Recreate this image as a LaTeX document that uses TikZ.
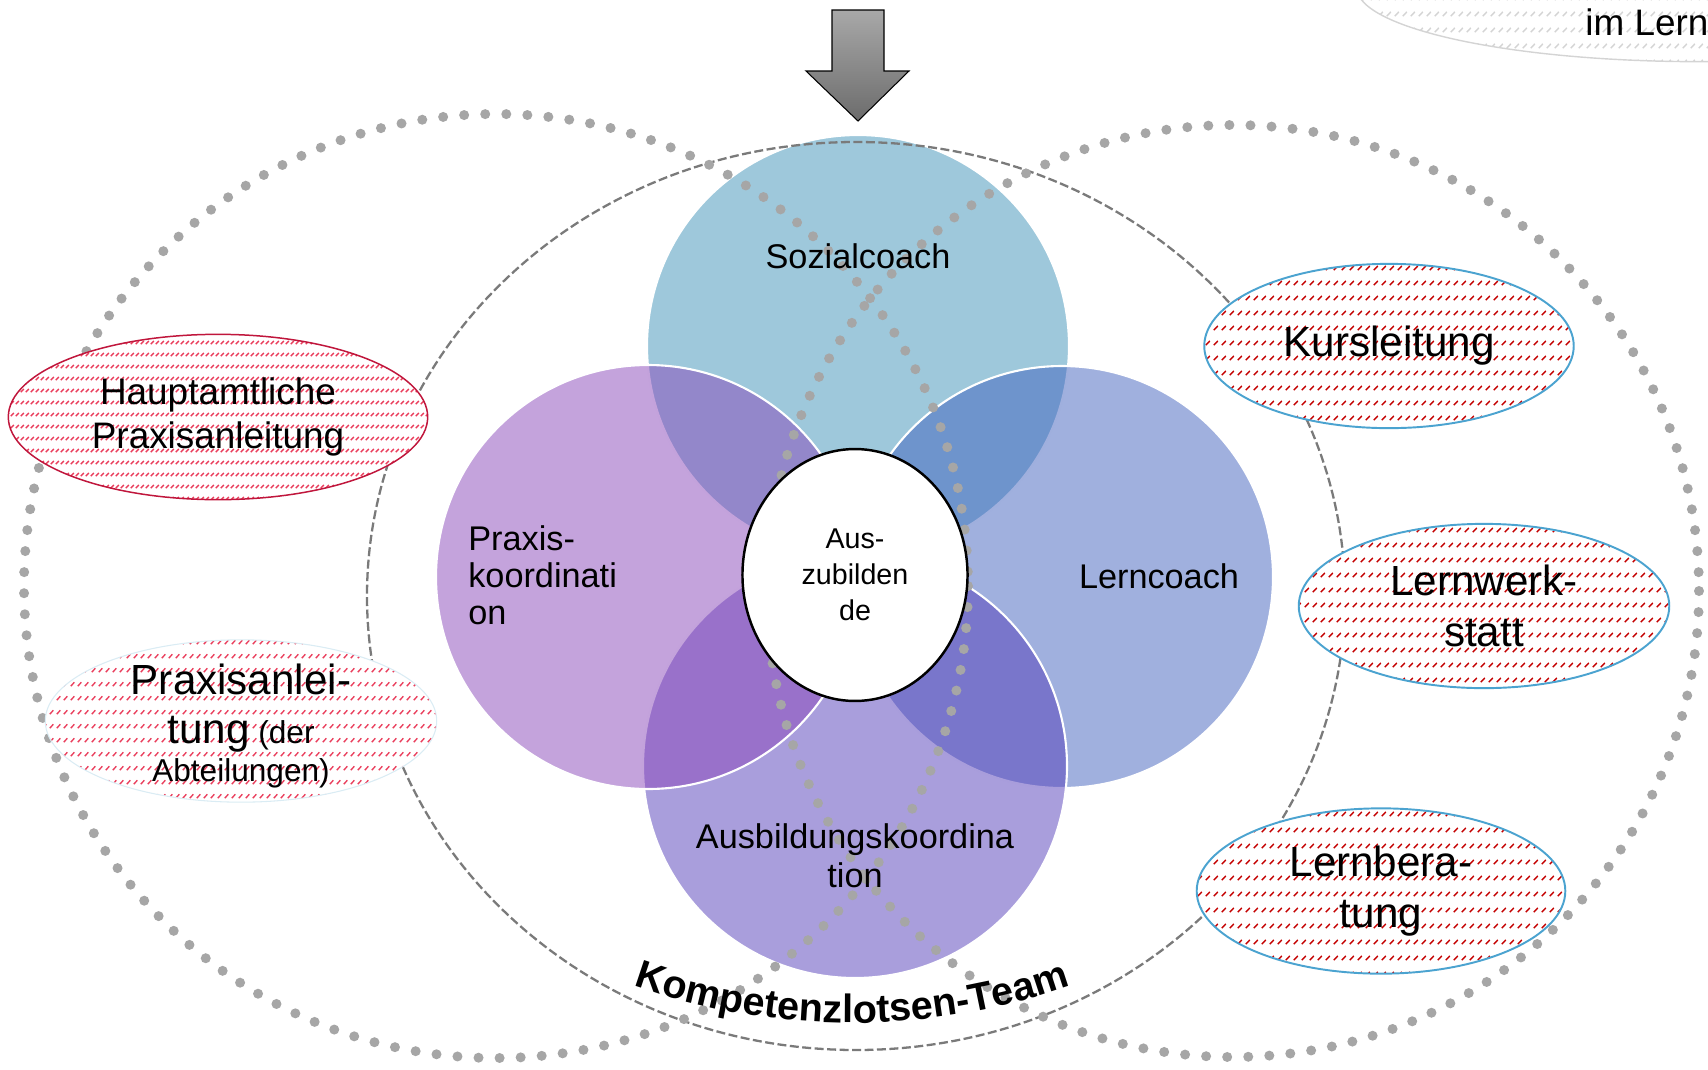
\documentclass[tikz,border=0pt]{standalone}
\usepackage{fontspec}
\setmainfont{Liberation Sans}
\usepackage{xcolor}
\usepackage{tikz}
\usetikzlibrary{shapes.geometric, patterns, decorations.text}

\definecolor{sozialblue}{RGB}{61,145,183}
\definecolor{praxislila}{RGB}{137,71,185}
\definecolor{lernblue}{RGB}{65,97,189}
\definecolor{ausbviolett}{RGB}{83,61,185}
\definecolor{ringgray}{RGB}{122,122,122}
\definecolor{dotgray}{RGB}{166,166,166}
\definecolor{hatchpink}{RGB}{234,62,92}
\definecolor{hatchred}{RGB}{196,0,0}
\definecolor{hatchgray}{RGB}{212,212,212}
\definecolor{rimred}{RGB}{192,22,60}
\definecolor{rimblue}{RGB}{75,163,208}
\definecolor{rimpale}{RGB}{218,236,244}
\definecolor{arrowtop}{RGB}{168,168,168}
\definecolor{arrowbottom}{RGB}{108,108,108}

\newcommand\dashrowpattern[4]{%
  \pgfdeclarepatternformonly{#1}{\pgfpointorigin}{\pgfqpoint{#2}{#3}}{\pgfqpoint{#2}{#3}}{%
    \pgfsetlinewidth{0.85pt}%
    \pgfpathmoveto{\pgfqpoint{0.5pt}{0.5pt}}%
    \pgfpathlineto{\pgfqpoint{#4}{#4}}%
    \pgfusepath{stroke}}}
\dashrowpattern{dashrowsfine}{3.1pt}{6.6pt}{2.4pt}
\dashrowpattern{dashrowsmid}{4pt}{8.1pt}{2.8pt}
\dashrowpattern{dashrows}{4.7pt}{8.8pt}{3pt}

\begin{document}
\begin{tikzpicture}[x=0.02cm, y=-0.02cm,
    venn/.style={fill opacity=0.5, draw=white, line width=1.2pt},
    dotring/.style={draw=dotgray, line width=5.7pt, line cap=round, dash pattern=on 0pt off 12pt},
    dashring/.style={draw=ringgray, line width=1.3pt, dash pattern=on 5.1pt off 2pt},
    hatchbox/.style={ellipse, inner sep=0pt, preaction={fill=white}, align=center},
    circlelabel/.style={inner sep=0pt, align=center, font=\fontsize{19.5}{22}\selectfont}]
  \useasboundingbox (0,0) rectangle (1708,1069);

  \coordinate (sozc) at (858,346);
  \coordinate (praxc) at (648,577);
  \coordinate (lernc) at (1062,577);
  \coordinate (ausbc) at (855,766);

  \path[venn, fill=sozialblue] (sozc) circle[radius=211];
  \path[venn, fill=lernblue] (lernc) circle[radius=211];
  \path[venn, fill=ausbviolett] (ausbc) circle[radius=212];
  \path[venn, fill=praxislila] (praxc) circle[radius=212];

  \draw[dashring] (856,596) ellipse[x radius=489, y radius=454];
  \draw[dotring] (496,586) circle[radius=472];
  \draw[dotring] (1233,591) circle[radius=466];

  \node[ellipse, draw=black, line width=1.4pt, fill=white, inner sep=0pt,
        minimum width=128.1pt, minimum height=143.4pt, align=center,
        font=\fontsize{16.3}{20.4}\selectfont] (azubi) at (855,575) {Aus-\\zubilden\\de};

  \node[circlelabel] (sozial) at (858,256) {Sozialcoach};
  \node[circlelabel] (lern) at (1159,576) {Lerncoach};
  \node[circlelabel, anchor=west, align=left, font=\fontsize{19.5}{21}\selectfont] (praxis) at (468,575) {Praxis-\\koordinati\\on};
  \node[circlelabel] (ausb) at (855,856) {Ausbildungskoordina\\tion};

  \node[hatchbox, draw=rimred, line width=0.85pt, pattern=dashrowsfine, pattern color=hatchpink,
        minimum width=238.7pt, minimum height=94.1pt,
        font=\fontsize{21}{25.5}\selectfont] (haupt) at (218,417) {Hauptamtliche\\Praxisanleitung};
  \node[hatchbox, draw=rimpale, line width=0.6pt, pattern=dashrowsmid, pattern color=hatchpink,
        minimum width=222.8pt, minimum height=92.4pt] (praxanl) at (241,721) {};
  \node[align=center, inner sep=0pt, font=\fontsize{18}{21.5}\selectfont] (praxanltext) at (241,726)
    {{\fontsize{24}{21.5}\selectfont Praxisanlei-}\\[6.3pt]{\fontsize{24}{21.5}\selectfont tung} (der\\Abteilungen)};
  \node[hatchbox, draw=rimblue, line width=1.1pt, pattern=dashrows, pattern color=hatchred,
        minimum width=210.3pt, minimum height=93.5pt,
        font=\fontsize{24}{29.5}\selectfont] (kurs) at (1389,346) {Kursleitung};
  \node[hatchbox, draw=rimblue, line width=1.1pt, pattern=dashrows, pattern color=hatchred,
        minimum width=210.9pt, minimum height=93.5pt,
        font=\fontsize{24}{29.5}\selectfont] (werkstatt) at (1484,606) {Lernwerk-\\statt};
  \node[hatchbox, draw=rimblue, line width=1.1pt, pattern=dashrows, pattern color=hatchred,
        minimum width=209.8pt, minimum height=94.1pt,
        font=\fontsize{24}{29}\selectfont] (beratung) at (1381,891) {Lernbera-\\tung};
  \node[hatchbox, draw=hatchgray, line width=0.8pt, pattern=dashrows, pattern color=hatchgray,
        minimum width=391.2pt, minimum height=85pt] (lernzentrum) at (1700,-13) {};
  \node[anchor=base west, inner sep=0pt, font=\fontsize{21}{25}\selectfont] (imlern) at (1585,35) {im Lern};

  \path[decorate, decoration={text along path, text align=center,
      text={|\fontsize{22.5}{25}\selectfont\bfseries|Kompetenzlotsen-Team}}]
    (577.3,962.1) arc[start angle=115, end angle=65, radius=650];

  \draw[black, line width=0.6pt, top color=arrowtop, bottom color=arrowbottom]
    (832,10) -- (884,10) -- (884,71) -- (909,71) -- (858,121) -- (806,71) -- (832,71) -- cycle;
\end{tikzpicture}
\end{document}
